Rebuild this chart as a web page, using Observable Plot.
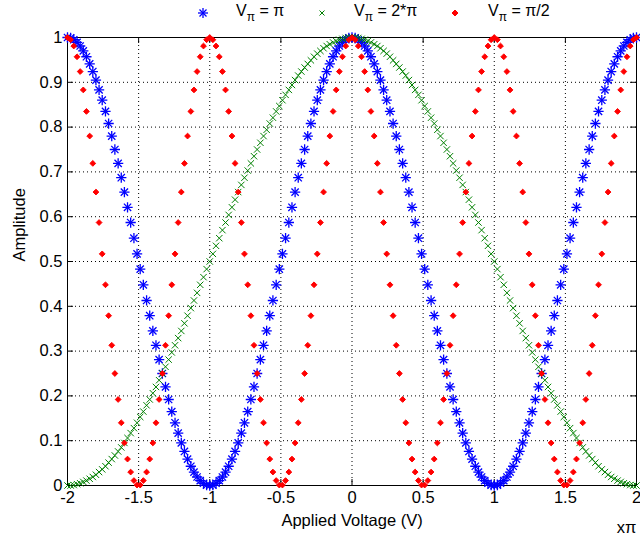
<!DOCTYPE html>
<html>
<head>
<meta charset="utf-8">
<script src="https://cdn.jsdelivr.net/npm/d3@7"></script>
<script src="https://cdn.jsdelivr.net/npm/@observablehq/plot@0.6"></script>
<style>
  html, body { margin: 0; padding: 0; background: #fff; }
  #chart { position: relative; width: 640px; height: 539px; font-family: "Liberation Sans", Arial, sans-serif; }
  #legend { position: relative; height: 27px; font-size: 16px; color: #000; }
  #legend .mk { position: absolute; top: 7px; width: 12px; height: 12px; }
  #legend .lb { position: absolute; top: 2px; white-space: nowrap; }
  #legend sub { font-size: 12px; vertical-align: -5px; line-height: 0; }
  svg { display: block; }
</style>
</head>
<body>
<div id="chart">
  <div id="legend"></div>
</div>
<script>
// Applied voltage, in units of π
const voltage = [
  -2, -1.978, -1.956, -1.933, -1.911, -1.889, -1.867, -1.844, -1.822,
  -1.8, -1.778, -1.756, -1.733, -1.711, -1.689, -1.667, -1.644, -1.622,
  -1.6, -1.578, -1.556, -1.533, -1.511, -1.489, -1.467, -1.444, -1.422,
  -1.4, -1.378, -1.356, -1.333, -1.311, -1.289, -1.267, -1.244, -1.222,
  -1.2, -1.178, -1.156, -1.133, -1.111, -1.089, -1.067, -1.044, -1.022,
  -1, -0.978, -0.956, -0.933, -0.911, -0.889, -0.867, -0.844, -0.822,
  -0.8, -0.778, -0.756, -0.733, -0.711, -0.689, -0.667, -0.644, -0.622,
  -0.6, -0.578, -0.556, -0.533, -0.511, -0.489, -0.467, -0.444, -0.422,
  -0.4, -0.378, -0.356, -0.333, -0.311, -0.289, -0.267, -0.244, -0.222,
  -0.2, -0.178, -0.156, -0.133, -0.111, -0.089, -0.067, -0.044, -0.022,
  0, 0.022, 0.044, 0.067, 0.089, 0.111, 0.133, 0.156, 0.178,
  0.2, 0.222, 0.244, 0.267, 0.289, 0.311, 0.333, 0.356, 0.378,
  0.4, 0.422, 0.444, 0.467, 0.489, 0.511, 0.533, 0.556, 0.578,
  0.6, 0.622, 0.644, 0.667, 0.689, 0.711, 0.733, 0.756, 0.778,
  0.8, 0.822, 0.844, 0.867, 0.889, 0.911, 0.933, 0.956, 0.978,
  1, 1.022, 1.044, 1.067, 1.089, 1.111, 1.133, 1.156, 1.178,
  1.2, 1.222, 1.244, 1.267, 1.289, 1.311, 1.333, 1.356, 1.378,
  1.4, 1.422, 1.444, 1.467, 1.489, 1.511, 1.533, 1.556, 1.578,
  1.6, 1.622, 1.644, 1.667, 1.689, 1.711, 1.733, 1.756, 1.778,
  1.8, 1.822, 1.844, 1.867, 1.889, 1.911, 1.933, 1.956, 1.978,
  2
];

// Vπ = π
const ampPi = [
  1.000, 0.999, 0.995, 0.989, 0.981, 0.970, 0.957, 0.941, 0.924, 0.905,
  0.883, 0.860, 0.835, 0.808, 0.780, 0.750, 0.719, 0.687, 0.655, 0.621,
  0.587, 0.552, 0.517, 0.483, 0.448, 0.413, 0.379, 0.345, 0.313, 0.281,
  0.250, 0.220, 0.192, 0.165, 0.140, 0.117, 0.095, 0.076, 0.059, 0.043,
  0.030, 0.019, 0.011, 0.005, 0.001, 0,
  0.001, 0.005, 0.011, 0.019, 0.030, 0.043, 0.059, 0.076, 0.095, 0.117,
  0.140, 0.165, 0.192, 0.220, 0.250, 0.281, 0.313, 0.345, 0.379, 0.413,
  0.448, 0.483, 0.517, 0.552, 0.587, 0.621, 0.655, 0.687, 0.719, 0.750,
  0.780, 0.808, 0.835, 0.860, 0.883, 0.905, 0.924, 0.941, 0.957, 0.970,
  0.981, 0.989, 0.995, 0.999,
  1.000, 0.999, 0.995, 0.989, 0.981, 0.970, 0.957, 0.941, 0.924, 0.905,
  0.883, 0.860, 0.835, 0.808, 0.780, 0.750, 0.719, 0.687, 0.655, 0.621,
  0.587, 0.552, 0.517, 0.483, 0.448, 0.413, 0.379, 0.345, 0.313, 0.281,
  0.250, 0.220, 0.192, 0.165, 0.140, 0.117, 0.095, 0.076, 0.059, 0.043,
  0.030, 0.019, 0.011, 0.005, 0.001, 0,
  0.001, 0.005, 0.011, 0.019, 0.030, 0.043, 0.059, 0.076, 0.095, 0.117,
  0.140, 0.165, 0.192, 0.220, 0.250, 0.281, 0.313, 0.345, 0.379, 0.413,
  0.448, 0.483, 0.517, 0.552, 0.587, 0.621, 0.655, 0.687, 0.719, 0.750,
  0.780, 0.808, 0.835, 0.860, 0.883, 0.905, 0.924, 0.941, 0.957, 0.970,
  0.981, 0.989, 0.995, 0.999, 1.000
];

// Vπ = 2*π
const amp2Pi = [
  0, 0, 0.001, 0.003, 0.005, 0.008, 0.011, 0.015, 0.019,
  0.024, 0.030, 0.036, 0.043, 0.051, 0.059, 0.067, 0.076, 0.085,
  0.095, 0.106, 0.117, 0.128, 0.140, 0.153, 0.165, 0.179, 0.192,
  0.206, 0.220, 0.235, 0.250, 0.265, 0.281, 0.297, 0.313, 0.329,
  0.345, 0.362, 0.379, 0.396, 0.413, 0.430, 0.448, 0.465, 0.483,
  0.500, 0.517, 0.535, 0.552, 0.570, 0.587, 0.604, 0.621, 0.638,
  0.655, 0.671, 0.687, 0.703, 0.719, 0.735, 0.750, 0.765, 0.780,
  0.794, 0.808, 0.821, 0.835, 0.847, 0.860, 0.872, 0.883, 0.894,
  0.905, 0.915, 0.924, 0.933, 0.941, 0.949, 0.957, 0.964, 0.970,
  0.976, 0.981, 0.985, 0.989, 0.992, 0.995, 0.997, 0.999, 1.000,
  1.000, 1.000, 0.999, 0.997, 0.995, 0.992, 0.989, 0.985, 0.981,
  0.976, 0.970, 0.964, 0.957, 0.949, 0.941, 0.933, 0.924, 0.915,
  0.905, 0.894, 0.883, 0.872, 0.860, 0.847, 0.835, 0.821, 0.808,
  0.794, 0.780, 0.765, 0.750, 0.735, 0.719, 0.703, 0.687, 0.671,
  0.655, 0.638, 0.621, 0.604, 0.587, 0.570, 0.552, 0.535, 0.517,
  0.500, 0.483, 0.465, 0.448, 0.430, 0.413, 0.396, 0.379, 0.362,
  0.345, 0.329, 0.313, 0.297, 0.281, 0.265, 0.250, 0.235, 0.220,
  0.206, 0.192, 0.179, 0.165, 0.153, 0.140, 0.128, 0.117, 0.106,
  0.095, 0.085, 0.076, 0.067, 0.059, 0.051, 0.043, 0.036, 0.030,
  0.024, 0.019, 0.015, 0.011, 0.008, 0.005, 0.003, 0.001, 0,
  0
];

// Vπ = π/2
const ampHalfPi = [
  1.000, 0.995, 0.981, 0.957, 0.924, 0.883, 0.835, 0.780, 0.719, 0.655,
  0.587, 0.517, 0.448, 0.379, 0.313, 0.250, 0.192, 0.140, 0.095, 0.059,
  0.030, 0.011, 0.001,
  0.001, 0.011, 0.030, 0.059, 0.095, 0.140, 0.192, 0.250, 0.313, 0.379,
  0.448, 0.517, 0.587, 0.655, 0.719, 0.780, 0.835, 0.883, 0.924, 0.957,
  0.981, 0.995,
  1.000, 0.995, 0.981, 0.957, 0.924, 0.883, 0.835, 0.780, 0.719, 0.655,
  0.587, 0.517, 0.448, 0.379, 0.313, 0.250, 0.192, 0.140, 0.095, 0.059,
  0.030, 0.011, 0.001,
  0.001, 0.011, 0.030, 0.059, 0.095, 0.140, 0.192, 0.250, 0.313, 0.379,
  0.448, 0.517, 0.587, 0.655, 0.719, 0.780, 0.835, 0.883, 0.924, 0.957,
  0.981, 0.995,
  1.000, 0.995, 0.981, 0.957, 0.924, 0.883, 0.835, 0.780, 0.719, 0.655,
  0.587, 0.517, 0.448, 0.379, 0.313, 0.250, 0.192, 0.140, 0.095, 0.059,
  0.030, 0.011, 0.001,
  0.001, 0.011, 0.030, 0.059, 0.095, 0.140, 0.192, 0.250, 0.313, 0.379,
  0.448, 0.517, 0.587, 0.655, 0.719, 0.780, 0.835, 0.883, 0.924, 0.957,
  0.981, 0.995,
  1.000, 0.995, 0.981, 0.957, 0.924, 0.883, 0.835, 0.780, 0.719, 0.655,
  0.587, 0.517, 0.448, 0.379, 0.313, 0.250, 0.192, 0.140, 0.095, 0.059,
  0.030, 0.011, 0.001,
  0.001, 0.011, 0.030, 0.059, 0.095, 0.140, 0.192, 0.250, 0.313, 0.379,
  0.448, 0.517, 0.587, 0.655, 0.719, 0.780, 0.835, 0.883, 0.924, 0.957,
  0.981, 0.995,
  1.000
];

const xTicks = [-2, -1.5, -1, -0.5, 0, 0.5, 1, 1.5, 2];
const yTicks = [0, 0.1, 0.2, 0.3, 0.4, 0.5, 0.6, 0.7, 0.8, 0.9, 1];
const legendRest = [" = π", " = 2*π", " = π/2"];
const xLabel = "Applied Voltage (V)";
const xUnit = "xπ";
const yLabel = "Amplitude";

const BLUE = "#0000ff", GREEN = "#008000", RED = "#ff0000";
const FONT = "'Liberation Sans', Arial, Helvetica, sans-serif";
const FS = 16.5;

const W = 640, H = 512;
const mL = 67, mR = 4, mT = 10, mB = 54;
const innerW = W - mL - mR, innerH = H - mT - mB;
const TICK = 6;

const rows = (ys) => voltage.map((x, i) => ({x, y: ys[i]}));
const dPi = rows(ampPi), d2Pi = rows(amp2Pi), dHalf = rows(ampHalfPi);

const dotted = {stroke: "#000", strokeOpacity: 1, strokeWidth: 1, strokeDasharray: "1,3"};

const chart = Plot.plot({
  width: W, height: H,
  marginLeft: mL, marginRight: mR, marginTop: mT, marginBottom: mB,
  x: {domain: [-2, 2]},
  y: {domain: [0, 1]},
  style: {fontFamily: FONT, fontSize: FS + "px", color: "#000", background: "#fff", overflow: "visible"},
  marks: [
    Plot.gridX(xTicks.slice(1, -1), dotted),
    Plot.gridY(yTicks.slice(1, -1), dotted),
    // inward tick marks on all four sides
    Plot.tickX(xTicks, {x: d => d, stroke: "#000", insetTop: innerH - TICK}),
    Plot.tickX(xTicks, {x: d => d, stroke: "#000", insetBottom: innerH - TICK}),
    Plot.tickY(yTicks, {y: d => d, stroke: "#000", insetRight: innerW - TICK}),
    Plot.tickY(yTicks, {y: d => d, stroke: "#000", insetLeft: innerW - TICK}),
    Plot.axisX(xTicks, {tickSize: 0, tickPadding: 6, tickFormat: d => String(d), label: null, fontSize: FS, fill: "#000"}),
    Plot.axisY(yTicks, {tickSize: 0, tickPadding: 5, tickFormat: d => String(d), label: null, fontSize: FS, fill: "#000"}),
    Plot.frame({stroke: "#000"}),
    // Vπ = π : asterisks
    Plot.dot(dPi, {x: "x", y: "y", symbol: "plus", r: 3.4, stroke: BLUE, strokeWidth: 1.3}),
    Plot.dot(dPi, {x: "x", y: "y", symbol: "times", r: 3.4, stroke: BLUE, strokeWidth: 1.3}),
    // Vπ = 2*π : crosses
    Plot.dot(d2Pi, {x: "x", y: "y", symbol: "times", r: 3, stroke: GREEN, strokeWidth: 1}),
    // Vπ = π/2 : points
    Plot.dot(dHalf, {x: "x", y: "y", symbol: "diamond2", r: 2.6, fill: RED, stroke: RED, strokeWidth: 1}),
    Plot.text([xLabel], {frameAnchor: "bottom", dy: 40, fontSize: FS, fill: "#000"}),
    Plot.text([xUnit], {frameAnchor: "bottom-right", dx: 0, dy: 47, fontSize: FS, fill: "#000"}),
    Plot.text([yLabel], {frameAnchor: "left", dx: -48, rotate: -90, fontSize: FS, fill: "#000"})
  ]
});
document.getElementById("chart").appendChild(chart);

// legend row above the axes
const legend = document.getElementById("legend");
const markers = [
  `<line x1="1" y1="6" x2="11" y2="6" stroke="${BLUE}" stroke-width="1.3"/><line x1="6" y1="1" x2="6" y2="11" stroke="${BLUE}" stroke-width="1.3"/><line x1="2.5" y1="2.5" x2="9.5" y2="9.5" stroke="${BLUE}" stroke-width="1.3"/><line x1="9.5" y1="2.5" x2="2.5" y2="9.5" stroke="${BLUE}" stroke-width="1.3"/>`,
  `<line x1="3.5" y1="3.5" x2="8.5" y2="8.5" stroke="${GREEN}"/><line x1="8.5" y1="3.5" x2="3.5" y2="8.5" stroke="${GREEN}"/>`,
  `<path d="M6 3L9 6L6 9L3 6Z" fill="${RED}" stroke="${RED}"/>`
];
const markerX = [197, 316, 449];
const labelX = [236, 354, 488];
legendRest.forEach((rest, i) => {
  const m = document.createElement("div");
  m.className = "mk";
  m.style.left = markerX[i] + "px";
  m.innerHTML = `<svg width="12" height="12" viewBox="0 0 12 12">${markers[i]}</svg>`;
  legend.appendChild(m);
  const t = document.createElement("div");
  t.className = "lb";
  t.style.left = labelX[i] + "px";
  t.innerHTML = `V<sub>π</sub>${rest}`;
  legend.appendChild(t);
});
</script>
</body>
</html>
